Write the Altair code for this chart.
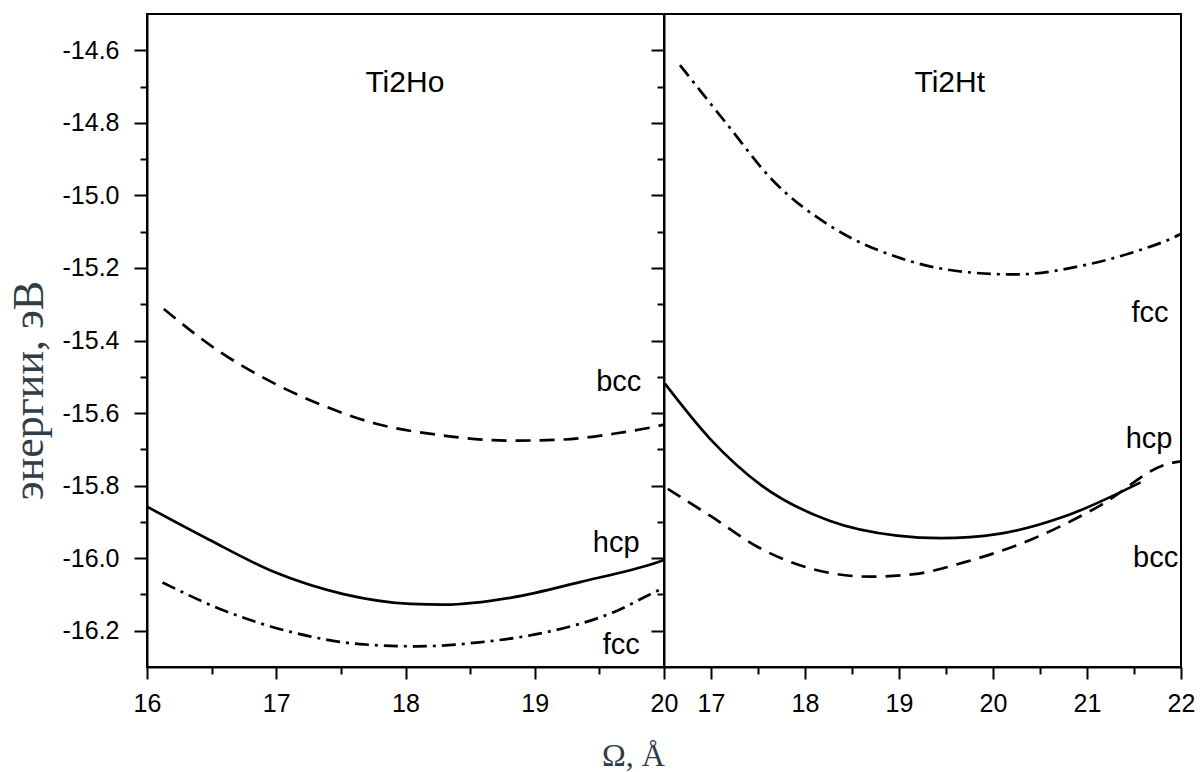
import altair as alt
import pandas as pd

# ---- Ti2Ho: total energy (eV) against Omega ----
ho_bcc_omega = [16.13, 16.55, 16.94, 17.36, 17.78, 18.25, 18.83, 19.22, 19.61, 19.91, 20.0]
ho_bcc_energy = [-15.313, -15.428, -15.510, -15.579, -15.630, -15.660, -15.676, -15.673, -15.657, -15.639, -15.632]

ho_hcp_omega = [16.0, 16.47, 16.99, 17.52, 18.04, 18.30, 18.83, 19.35, 19.95, 20.0]
ho_hcp_energy = [-15.858, -15.947, -16.039, -16.099, -16.126, -16.128, -16.108, -16.066, -16.011, -16.005]

ho_fcc_omega = [16.12, 16.60, 17.12, 17.65, 18.09, 18.57, 19.09, 19.61, 19.95, 20.0]
ho_fcc_energy = [-16.067, -16.145, -16.204, -16.237, -16.243, -16.232, -16.204, -16.149, -16.090, -16.082]

# ---- Ti2Ht ----
ht_fcc_omega = [16.67, 17.18, 17.64, 18.26, 18.98, 19.70, 20.24, 20.96, 21.50, 21.97, 22.0]
ht_fcc_energy = [-14.641, -14.807, -14.954, -15.083, -15.170, -15.211, -15.218, -15.193, -15.156, -15.110, -15.106]

ht_hcp_omega = [16.51, 16.99, 17.54, 18.26, 18.98, 19.45, 20.06, 20.78, 21.57]
ht_hcp_energy = [-15.519, -15.671, -15.800, -15.897, -15.938, -15.945, -15.933, -15.883, -15.791]

ht_bcc_omega = [16.54, 16.99, 17.54, 18.08, 18.69, 19.16, 19.70, 20.42, 21.14, 21.86, 22.0]
ht_bcc_energy = [-15.809, -15.883, -15.975, -16.030, -16.051, -16.044, -16.011, -15.947, -15.855, -15.740, -15.733]

# ---- annotations ----
ho_label_text = ["bcc", "hcp", "fcc"]
ho_label_omega = [19.65, 19.63, 19.67]
ho_label_energy = [-15.538, -15.982, -16.263]

ht_label_text = ["fcc", "hcp", "bcc"]
ht_label_omega = [21.67, 21.66, 21.73]
ht_label_energy = [-15.348, -15.696, -16.024]

panel_titles = ["Ti2Ho", "Ti2Ht"]
panel_title_omega = [17.995, 19.54]
panel_title_energy = [-14.715, -14.715]

# ---- axes ----
y_domain = [-16.3, -14.5]
y_ticks = [-16.2, -16.1, -16.0, -15.9, -15.8, -15.7, -15.6, -15.5, -15.4, -15.3,
           -15.2, -15.1, -15.0, -14.9, -14.8, -14.7, -14.6]
ho_domain = [16, 20]
ho_ticks = [16, 16.5, 17, 17.5, 18, 18.5, 19, 19.5, 20]
ht_domain = [16.5, 22]
ht_ticks = [17, 17.5, 18, 18.5, 19, 19.5, 20, 20.5, 21, 21.5, 22]

Y_MAJOR = "abs(datum.value * 5 - round(datum.value * 5)) < 0.01"
X_MAJOR = "abs(datum.value - round(datum.value)) < 0.01"

TITLE_COLOR = "#2f3e46"
SANS = "Liberation Sans"
SERIF = "Liberation Serif"
W, H = 517, 653


def line_frame(phases):
    frames = []
    for name, om, en in phases:
        frames.append(pd.DataFrame({"omega": om, "energy": en, "phase": name}))
    return pd.concat(frames, ignore_index=True)


def text_frame(texts, om, en):
    return pd.DataFrame({"omega": om, "energy": en, "label": texts})


def y_axis(with_labels):
    if with_labels:
        return alt.Axis(
            values=y_ticks,
            labelExpr=f"{Y_MAJOR} ? '-' + format(abs(datum.value), '.1f') : ''",
            tickSize={"condition": {"test": Y_MAJOR, "value": 13}, "value": 7},
            labelPadding=15,
            labelFlush=False,
            title="энергии, эВ",
            titleFont=SERIF,
            titleFontSize=44,
            titleFontWeight="normal",
            titleColor=TITLE_COLOR,
            titlePadding=11,
            titleY=376,
        )
    return alt.Axis(
        values=y_ticks,
        labels=False,
        tickSize={"condition": {"test": Y_MAJOR, "value": 13}, "value": 7},
        title=None,
    )


def x_axis(ticks, title):
    kw = dict(
        values=ticks,
        labelExpr=f"{X_MAJOR} ? format(datum.value, 'd') : ''",
        tickSize={"condition": {"test": X_MAJOR, "value": 12}, "value": 7},
        labelPadding=12,
        labelFlush=False,
    )
    if title:
        kw.update(
            title=title,
            titleFont=SERIF,
            titleFontSize=32,
            titleFontWeight="normal",
            titleColor=TITLE_COLOR,
            titleX=486,
            titlePadding=24,
        )
    else:
        kw.update(title=None)
    return alt.Axis(**kw)


def panel(lines, labels, title_df, x_dom, xax, yax):
    xs = alt.Scale(domain=x_dom, nice=False, zero=False)
    ys = alt.Scale(domain=y_domain, nice=False, zero=False)
    enc = dict(
        x=alt.X("omega:Q", scale=xs, axis=xax),
        y=alt.Y("energy:Q", scale=ys, axis=yax),
    )
    base = alt.Chart(lines).encode(**enc)
    styles = {"hcp": None, "bcc": [15, 9], "fcc": [14, 6, 3, 6]}
    layers = []
    for phase, dash in styles.items():
        mk = dict(color="black", strokeWidth=2.7, interpolate="monotone")
        if dash:
            mk["strokeDash"] = dash
        layers.append(base.transform_filter(alt.datum.phase == phase).mark_line(**mk))
    layers.append(
        alt.Chart(labels).mark_text(font=SANS, fontSize=29, color="black",
                                    align="center", baseline="alphabetic")
        .encode(text="label:N", **enc)
    )
    layers.append(
        alt.Chart(title_df).mark_text(font=SANS, fontSize=30, color="black",
                                      align="center", baseline="alphabetic")
        .encode(text="label:N", **enc)
    )
    return alt.layer(*layers).properties(width=W, height=H)


ho_lines = line_frame([
    ("bcc", ho_bcc_omega, ho_bcc_energy),
    ("hcp", ho_hcp_omega, ho_hcp_energy),
    ("fcc", ho_fcc_omega, ho_fcc_energy),
])
ht_lines = line_frame([
    ("fcc", ht_fcc_omega, ht_fcc_energy),
    ("hcp", ht_hcp_omega, ht_hcp_energy),
    ("bcc", ht_bcc_omega, ht_bcc_energy),
])

left = panel(
    ho_lines,
    text_frame(ho_label_text, ho_label_omega, ho_label_energy),
    text_frame(panel_titles[:1], panel_title_omega[:1], panel_title_energy[:1]),
    ho_domain, x_axis(ho_ticks, "Ω, Å"), y_axis(True),
)
right = panel(
    ht_lines,
    text_frame(ht_label_text, ht_label_omega, ht_label_energy),
    text_frame(panel_titles[1:], panel_title_omega[1:], panel_title_energy[1:]),
    ht_domain, x_axis(ht_ticks, None), y_axis(False),
)

chart = (
    alt.hconcat(left, right, spacing=0, bounds="flush")
    .properties(padding={"left": 6, "top": 13, "right": 0, "bottom": 0},
                background="white")
    .configure_view(stroke="black", strokeWidth=2)
    .configure_axis(
        domainColor="black", domainWidth=2, tickColor="black", tickWidth=2,
        grid=False, labelFont=SANS, labelFontSize=25, labelColor="black",
    )
)

chart.save("out.html", embed_options={"renderer": "svg", "actions": False})
